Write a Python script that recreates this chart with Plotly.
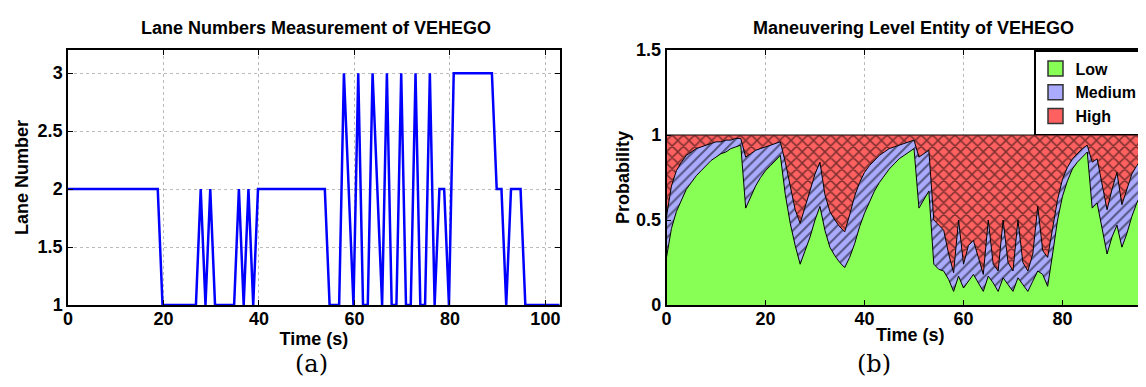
import plotly.graph_objects as go

# ---------------- data: left panel (lane number) ----------------
lane_t = [0, 18.8, 19.8, 26.8, 27.8, 28.8, 29.8, 30.8, 34.8, 35.8, 36.8, 37.8, 38.8, 39.8,
          53.8, 54.8, 56.8, 57.8, 59.8, 60.8, 61.8, 62.8, 63.8, 65.8, 66.8, 67.8, 68.8,
          69.8, 70.8, 71.8, 72.8, 73.8, 74.8, 75.8, 76.8, 77.8, 78.8, 79.8, 80.8, 88.8,
          89.8, 90.8, 91.8, 92.8, 94.8, 95.8, 103]
lane_v = [2, 2, 1, 1, 2, 1, 2, 1, 1, 2, 1, 2, 1, 2,
          2, 1, 1, 3, 1, 3, 1, 1, 3, 1, 3, 1, 1,
          3, 1, 1, 3, 1, 1, 3, 1, 2, 2, 1, 3, 3,
          2, 2, 1, 2, 2, 1, 1]

# ---------------- data: right panel (maneuvering level) ----------------
prob_t = list(range(0, 101))
low = [0.28, 0.45, 0.55, 0.62, 0.68, 0.72, 0.76, 0.79, 0.82, 0.85,
       0.87, 0.89, 0.90, 0.92, 0.93, 0.94, 0.57, 0.64, 0.70, 0.75,
       0.79, 0.82, 0.85, 0.88, 0.65, 0.48, 0.35, 0.24, 0.32, 0.40,
       0.50, 0.58, 0.44, 0.34, 0.29, 0.25, 0.22, 0.28, 0.36, 0.46,
       0.54, 0.61, 0.67, 0.72, 0.76, 0.80, 0.83, 0.86, 0.88, 0.90,
       0.92, 0.57, 0.62, 0.67, 0.24, 0.21, 0.20, 0.15, 0.08, 0.17,
       0.10, 0.14, 0.18, 0.13, 0.08, 0.17, 0.13, 0.08, 0.16, 0.12,
       0.08, 0.16, 0.12, 0.08, 0.14, 0.20, 0.18, 0.11, 0.30, 0.50,
       0.64, 0.73, 0.80, 0.84, 0.87, 0.90, 0.57, 0.60, 0.45, 0.30,
       0.40, 0.47, 0.34, 0.42, 0.52, 0.60, 0.66, 0.71, 0.75, 0.78,
       0.80]
low_med = [0.52, 0.70, 0.79, 0.84, 0.88, 0.90, 0.92, 0.93, 0.94, 0.95,
           0.96, 0.96, 0.97, 0.97, 0.98, 0.98, 0.87, 0.89, 0.91, 0.92,
           0.93, 0.94, 0.95, 0.96, 0.84, 0.70, 0.56, 0.48, 0.58, 0.68,
           0.77, 0.84, 0.65, 0.55, 0.50, 0.46, 0.43, 0.53, 0.64, 0.72,
           0.78, 0.82, 0.85, 0.88, 0.90, 0.92, 0.93, 0.94, 0.95, 0.96,
           0.97, 0.87, 0.89, 0.91, 0.50, 0.47, 0.44, 0.30, 0.19, 0.50,
           0.24, 0.35, 0.38, 0.28, 0.18, 0.50, 0.24, 0.20, 0.50, 0.25,
           0.20, 0.50, 0.25, 0.20, 0.30, 0.58, 0.32, 0.28, 0.45, 0.62,
           0.74, 0.81, 0.86, 0.89, 0.92, 0.94, 0.84, 0.86, 0.70, 0.56,
           0.68, 0.78, 0.59, 0.68, 0.77, 0.82, 0.86, 0.89, 0.92, 0.93,
           0.94]
total = [1.0] * len(prob_t)

x_ticks = [0, 20, 40, 60, 80, 100]
lane_ticks = [1, 1.5, 2, 2.5, 3]
prob_ticks = [0, 0.5, 1, 1.5]

FONT = "Liberation Sans"
W, H = 1146, 387
ML, MR, MT, MB = 60, 0, 42, 90

GREEN, BLUE, RED = "#88FF55", "#AAAAFF", "#FF6060"

fig = go.Figure()

# left panel
fig.add_trace(go.Scatter(x=lane_t, y=lane_v, mode="lines",
                         line=dict(color="#0000FF", width=2.5),
                         showlegend=False, xaxis="x", yaxis="y"))

# right panel stacked areas
fig.add_trace(go.Scatter(x=prob_t, y=low, mode="lines", fill="tozeroy",
                         fillcolor=GREEN, line=dict(color="black", width=1),
                         showlegend=False, xaxis="x2", yaxis="y2"))
fig.add_trace(go.Scatter(x=prob_t, y=low_med, mode="lines", fill="tonexty",
                         fillcolor=BLUE,
                         fillpattern=dict(shape="/", fgcolor="black", bgcolor=BLUE,
                                          size=7, solidity=0.28),
                         line=dict(color="black", width=1),
                         showlegend=False, xaxis="x2", yaxis="y2"))
fig.add_trace(go.Scatter(x=prob_t, y=total, mode="lines", fill="tonexty",
                         fillcolor=RED,
                         fillpattern=dict(shape="x", fgcolor="black", bgcolor=RED,
                                          size=8, solidity=0.34),
                         line=dict(color="black", width=1),
                         showlegend=False, xaxis="x2", yaxis="y2"))

# legend entries
for name, col in [("Low", GREEN), ("Medium", BLUE), ("High", RED)]:
    fig.add_trace(go.Scatter(x=[None], y=[None], name=name, mode="markers",
                             marker=dict(symbol="square", size=15, color=col,
                                         line=dict(color="#333333", width=1.5)),
                             xaxis="x2", yaxis="y2", showlegend=True))

pw = W - ML - MR
ph = H - MT - MB
left_dom = [0, (551.7 - ML) / pw]
right_dom = [(658.5 - ML) / pw, 1.0]

axis_common = dict(showline=True, linecolor="black", linewidth=1.5, mirror="ticks",
                   ticks="inside", ticklen=5, tickcolor="black",
                   showgrid=True, gridcolor="#BBBBBB", griddash="dot", gridwidth=1,
                   zeroline=False,
                   tickfont=dict(family=FONT, size=18, color="black", weight="bold"))
title_font = dict(family=FONT, size=18, color="black", weight="bold")

fig.update_layout(
    width=W, height=H,
    margin=dict(l=ML, r=MR, t=MT, b=MB, autoexpand=False),
    paper_bgcolor="white", plot_bgcolor="white",
    xaxis=dict(domain=left_dom, range=[0, 103], tickvals=x_ticks, anchor="y",
               ticklabelstandoff=-3,
               title=dict(text="Time (s)", standoff=0, font=title_font), **axis_common),
    yaxis=dict(domain=[0, 1], range=[1, 3.2], tickvals=lane_ticks, anchor="x",
               ticklabelstandoff=0,
               title=dict(text="Lane Number", standoff=4, font=title_font), **axis_common),
    xaxis2=dict(domain=right_dom, range=[0, (W - 658.5) / 4.95], tickvals=x_ticks, anchor="y2",
                ticklabelstandoff=-3,
                title=dict(text="Time (s)", standoff=0, font=title_font), **axis_common),
    yaxis2=dict(domain=[0, 1], range=[0, 1.5], tickvals=prob_ticks, anchor="x2",
                ticklabelstandoff=0,
                title=dict(text="Probability", standoff=2, font=title_font), **axis_common),
    legend=dict(x=(1026 - ML) / pw, y=(H - MB - 42) / ph, xanchor="left", yanchor="top",
                bgcolor="white", bordercolor="black", borderwidth=1.5,
                font=dict(family=FONT, size=16, color="black", weight="bold"),
                traceorder="normal", tracegroupgap=0, itemwidth=30),
    showlegend=True,
    annotations=[
        dict(text="Lane Numbers Measurement of VEHEGO", x=(308 - ML) / pw, y=(H - MB - 20) / ph,
             xref="paper", yref="paper", showarrow=False, xanchor="center", yanchor="middle",
             font=dict(family=FONT, size=18, color="black", weight="bold")),
        dict(text="Maneuvering Level Entity of VEHEGO", x=(905 - ML) / pw, y=(H - MB - 20) / ph,
             xref="paper", yref="paper", showarrow=False, xanchor="center", yanchor="middle",
             font=dict(family=FONT, size=18, color="black", weight="bold")),
        dict(text="(a)", x=(303 - ML) / pw, y=(H - MB - 356) / ph,
             xref="paper", yref="paper", showarrow=False, xanchor="center", yanchor="middle",
             font=dict(family="DejaVu Serif", size=24, color="black")),
        dict(text="(b)", x=(866 - ML) / pw, y=(H - MB - 356) / ph,
             xref="paper", yref="paper", showarrow=False, xanchor="center", yanchor="middle",
             font=dict(family="DejaVu Serif", size=24, color="black")),
    ],
)

fig.write_html("out.html")
